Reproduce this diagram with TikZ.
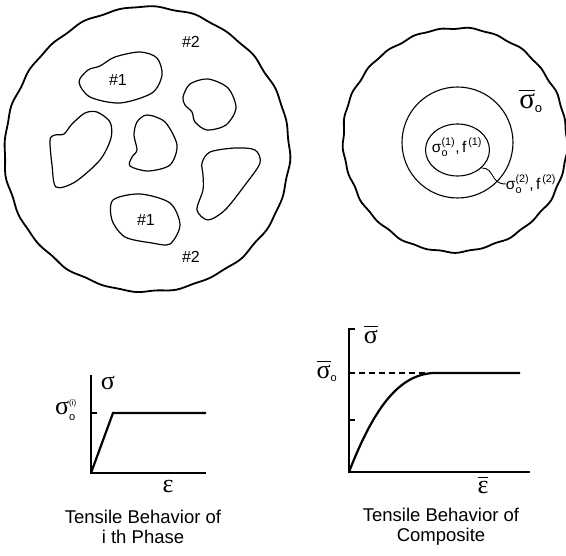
\documentclass[tikz,border=0pt]{standalone}
\usepackage{fontspec}
\setmainfont{Liberation Sans}
\newfontfamily\grk{Liberation Serif}
\usepackage{amsmath}
\newcommand\gsig{\text{\grk σ}}
\newcommand\geps{\text{\grk ε}}
\begin{document}
\begin{tikzpicture}[x=1pt,y=-1pt,
  rim/.style={line width=1.8pt},
  blob/.style={line width=1.2pt},
  ring/.style={line width=1.1pt},
  axis/.style={line width=1.3pt},
  curve/.style={line width=2.2pt},
  lbl/.style={font=\fontsize{16}{18}\selectfont, inner sep=0pt},
  captext/.style={font=\fontsize{18.5}{20}\selectfont, align=center, inner sep=0pt},
  sym/.style={inner sep=0pt, font=\fontsize{26}{27}\selectfont}]
\useasboundingbox (0,0) rectangle (566,556);
% left composite
\draw[rim, shift={(147,150)}] plot[smooth cycle, domain=0:358, samples=180] (\x:{142.5+0.6*sin(24*\x)+0.4*sin(15*\x+40)+0.8*sin(3*\x)});
\draw[blob] plot[smooth cycle] coordinates {(79,82) (88,70) (100,66) (115,57) (140,52) (157,58) (162,75) (152,93) (120,103) (90,97)};
\draw[blob] plot[smooth cycle] coordinates {(183,97) (190,84) (208,79) (228,88) (236,108) (226,125) (207,130) (195,122) (192,112) (185,105)};
\draw[blob] plot[smooth cycle] coordinates {(97,112) (110,122) (111,138) (100,160) (75,182) (56,187) (52,165) (50,140) (55,135) (64,134) (72,124) (85,113)};
\draw[blob] plot[smooth cycle] coordinates {(147,115) (165,122) (177,145) (170,165) (148,171) (130,166) (132,157) (137,150) (134,135) (137,122)};
\draw[blob] plot[smooth cycle] coordinates {(210,152) (235,148) (255,150) (260,163) (245,185) (225,210) (208,220) (197,210) (203,190) (203,175) (202,163)};
\draw[blob] plot[smooth cycle] coordinates {(113,200) (140,194) (170,203) (180,225) (170,244) (152,243) (125,237) (112,220)};
\node[lbl] (p1a) at (118,80) {\#1};
\node[lbl] (p1b) at (146,220) {\#1};
\node[lbl] (p2a) at (191,42) {\#2};
\node[lbl] (p2b) at (191,257) {\#2};
% right model
\draw[rim, shift={(455,140)}] plot[smooth cycle, domain=0:358, samples=180] (\x:{112+0.6*sin(25*\x)+0.4*sin(13*\x+30)+0.6*sin(4*\x)});
\draw[ring] (457.5,142.5) circle (55.5);
\draw[ring] (457.5,150) ellipse (32 and 26);
\node[inner sep=0pt, font=\fontsize{15.5}{16}\selectfont] (in1) at (457,147) {$\text{σ}_{\text{o}}^{\text{(1)}}\text{,\,f}^{\text{\,(1)}}$};
\node[inner sep=0pt, font=\fontsize{15.5}{16}\selectfont] (in2) at (531,184) {$\text{σ}_{\text{o}}^{\text{(2)}}\text{,\,f}^{\text{\,(2)}}$};
\coordinate (lead) at (482,168);
\draw[line width=0.9pt] (lead) .. controls (495,168) and (490,184) .. (in2.west);
\node[inner sep=0pt, font=\fontsize{29}{30}\selectfont] (sbar0) at (531,101) {$\overline{\gsig}_{\text{\fontsize{13}{13}\selectfont o}}$};
% left graph
\coordinate (o1) at (91,473);
\coordinate (y1) at (91,375);
\coordinate (x1) at (206,473);
\coordinate (k1) at (113,413);
\coordinate (e1) at (206,413);
\draw[axis] (y1) -- (o1) -- (x1);
\draw[axis] (91,413) -- (97,413);
\draw[curve, line join=miter] (o1) -- (k1) -- (e1);
\node[sym] (s1) at (108,383) {$\gsig$};
\node[sym] (s1o) at (66,410) {$\gsig_{\text{\fontsize{11}{11}\selectfont o}}^{\text{\fontsize{8}{8}\selectfont (i)}}$};
\node[sym] (eps1) at (168,487) {$\geps$};
\node[captext] (c1) at (143,527) {Tensile Behavior of\\ i th Phase};
% right graph
\coordinate (o2) at (349,472);
\coordinate (y2) at (349,328);
\coordinate (x2) at (530,472);
\coordinate (k2) at (433,373);
\coordinate (e2) at (520,373);
\draw[axis] (y2) -- (o2) -- (x2);
\draw[line width=1.8pt] (o2) -- (405,472);
\draw[axis] (349,329) -- (355,329);
\draw[axis] (349,420) -- (355,420);
\draw[line width=1.3pt, dashed, dash pattern=on 6pt off 4pt] (349,373) -- (k2);
\draw[curve] (o2) .. controls (375,405) and (400,375) .. (k2) -- (e2);
\node[sym] (s2) at (371,334) {$\overline{\gsig}$};
\node[sym] (s2o) at (327,371) {$\overline{\gsig}_{\text{\fontsize{11}{11}\selectfont o}}$};
\node[sym] (eps2) at (483,485) {$\overline{\geps}$};
\node[captext] (c2) at (441,527) {Tensile Behavior of\\ Composite};
\end{tikzpicture}
\end{document}
